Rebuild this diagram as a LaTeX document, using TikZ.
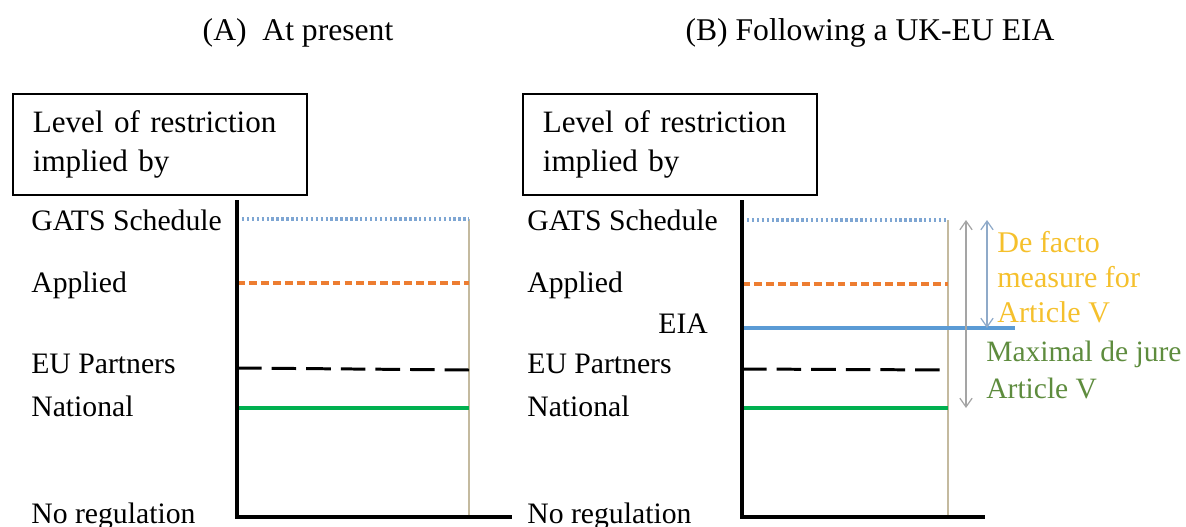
\documentclass[tikz,border=0pt]{standalone}
\usepackage{fontspec}
\setmainfont{Liberation Serif}
\usetikzlibrary{arrows.meta}
\definecolor{scheduleblue}{HTML}{7EA6D3}
\definecolor{appliedorange}{HTML}{ED7D31}
\definecolor{nationalgreen}{HTML}{00B050}
\definecolor{eiablue}{HTML}{5B9BD5}
\definecolor{edgetan}{HTML}{C4BA9F}
\definecolor{factogold}{HTML}{F5C02C}
\definecolor{juregreen}{HTML}{5E8C3E}
\definecolor{spangray}{HTML}{A5A5A5}
\definecolor{spanblue}{HTML}{8FAAC9}

\begin{document}
\begin{tikzpicture}[
  x=0.02cm,
  y=-0.02cm,
  every node/.style={font=\fontsize{16.9}{20}\selectfont, inner sep=0pt},
  levellabel/.style={anchor=base west},
  axisline/.style={black, line width=2.3pt},
  edgeline/.style={edgetan, line width=1pt},
  spanarrow/.style={{Straight Barb[length=5pt,width=7pt]}-{Straight Barb[length=5pt,width=7pt]}, line width=0.7pt}
]
  \useasboundingbox (0,0) rectangle (1186,527);

  % Titles
  \node[anchor=base, font=\fontsize{18}{20}\selectfont] (titleA) at (298,41) {(A)\ \ At present};
  \node[anchor=base, font=\fontsize{18}{20}\selectfont] (titleB) at (870,41) {(B) Following a UK-EU EIA};

  % Panel A: at present
  \node[draw, line width=1pt, anchor=north west, minimum width=5.88cm, minimum height=2.02cm,
        text width=5.08cm, inner xsep=0.4cm, align=left,
        font=\fontsize{17.7}{22.5}\selectfont] (boxA) at (12,93) {Level of restriction\\implied by};
  \node[levellabel] (gatsA) at (31,230) {GATS Schedule};
  \node[levellabel] (appliedA) at (31,292) {Applied};
  \node[levellabel] (partnersA) at (31,373) {EU Partners};
  \node[levellabel] (nationalA) at (31,416) {National};
  \node[levellabel] (noregA) at (31,523) {No regulation};

  \draw[edgeline] (469,219) -- (469,517);
  \draw[scheduleblue, line width=1.8pt, dash pattern=on 1.4pt off 1.4pt] (237,219) -- (469,219);
  \draw[appliedorange, line width=2pt, dash pattern=on 4.5pt off 2.3pt] (237,283) -- (469,283);
  \draw[black, line width=1.7pt, dash pattern=on 14pt off 5.7pt] (237,368) -- (469,370);
  \draw[nationalgreen, line width=2.1pt] (237,408) -- (469,408);
  \draw[axisline] (237,200) -- (237,517) -- (512,517);

  % Panel B: following a UK-EU EIA
  \node[draw, line width=1pt, anchor=north west, minimum width=5.88cm, minimum height=2.02cm,
        text width=5.08cm, inner xsep=0.4cm, align=left,
        font=\fontsize{17.7}{22.5}\selectfont] (boxB) at (522,93) {Level of restriction\\implied by};
  \node[levellabel] (gatsB) at (527,230) {GATS Schedule};
  \node[levellabel] (appliedB) at (527,292) {Applied};
  \node[levellabel] (eiaB) at (658,333) {EIA};
  \node[levellabel] (partnersB) at (527,373) {EU Partners};
  \node[levellabel] (nationalB) at (527,416) {National};
  \node[levellabel] (noregB) at (527,523) {No regulation};

  \draw[edgeline] (948,220) -- (948,517);
  \draw[scheduleblue, line width=1.8pt, dash pattern=on 1.4pt off 1.4pt] (742,220) -- (948,220);
  \draw[appliedorange, line width=2pt, dash pattern=on 4.5pt off 2.3pt] (742,284) -- (948,284);
  \draw[eiablue, line width=2.1pt] (742,328) -- (1015,328);
  \draw[black, line width=1.7pt, dash pattern=on 14pt off 5.7pt] (742,369) -- (948,370);
  \draw[nationalgreen, line width=2.1pt] (742,408) -- (948,408);
  \draw[axisline] (742,200) -- (742,517) -- (985,517);

  % Article V spans
  \coordinate (jureTop) at (966,220);
  \coordinate (jureBottom) at (966,408);
  \coordinate (factoTop) at (987,220);
  \coordinate (factoBottom) at (987,328);
  \draw[spanarrow, spangray] (jureTop) -- (jureBottom);
  \draw[spanarrow, spanblue] (factoTop) -- (factoBottom);
  \node[anchor=north west, align=left, text=factogold,
        font=\fontsize{17.1}{19.8}\selectfont] (factoText) at (997,231) {De facto\\measure for\\Article V};
  \node[anchor=north west, align=left, text=juregreen,
        font=\fontsize{16.8}{21}\selectfont] (jureText) at (986,341) {Maximal de jure\\Article V};
\end{tikzpicture}
\end{document}
